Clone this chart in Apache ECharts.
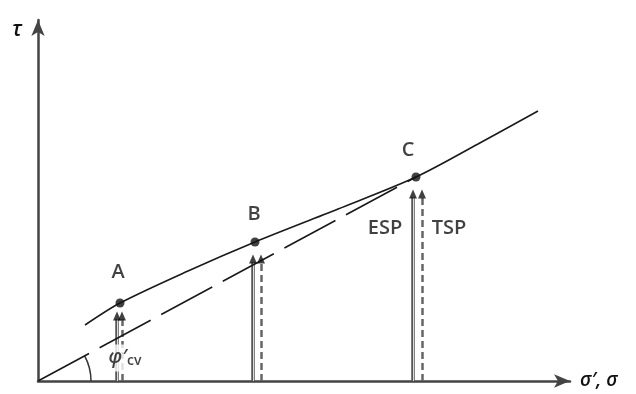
<!DOCTYPE html>
<html><head><meta charset="utf-8">
<script src="https://cdn.jsdelivr.net/npm/echarts@6/dist/echarts.min.js"></script>
<style>html,body{margin:0;padding:0;background:#fff}#c{width:636px;height:394px}</style>
</head><body><div id="c"></div>
<script>
// Failure envelope (curved), points in axis units
const curveX = [47, 82, 150, 217, 300, 378, 440, 500];
const curveY = [56, 78, 110, 139, 172, 204, 237, 270];
// Critical-state (phi'cv) line from origin to C
const cvX = [0, 378];
const cvY = [0, 204];
// State points
const pointNames = ['A', 'B', 'C'];
const pointX = [82, 217, 378];
const pointY = [78, 139, 204];
// Stress paths: effective (solid) and total (dashed)
const espX = [79, 215, 375];
const tspX = [84, 223, 384];
const pathTop = [66, 123, 188];
// Axis titles
const yTitle = 'τ';
const xTitle = 'σ′, σ';

const chart = echarts.init(document.getElementById('c'), null, {renderer: 'canvas'});
const FONT = 'Open Sans';

const textLabels = [
  {v: [pointX[0] - 2, 109], t: 'A'},
  {v: [pointX[1] - 1, 167], t: 'B'},
  {v: [pointX[2] - 8, 231], t: 'C'},
  {v: [347, 153], t: 'ESP'},
  {v: [411, 153], t: 'TSP'}
];

const espLines = espX.map((x, i) => ({coords: [[x, 0], [x, pathTop[i] - 4]]}));
const tspLines = tspX.map((x, i) => ({coords: [[x, 0], [x, pathTop[i] - 4]]}));
const heads = espX.map((x, i) => [x, pathTop[i] - 4]).concat(tspX.map((x, i) => [x, pathTop[i] - 4]));

chart.setOption({
  animation: false,
  grid: {left: 38, top: 20, width: 532, height: 361},
  xAxis: {
    type: 'value', min: 0, max: 532,
    splitLine: {show: false}, axisTick: {show: false}, axisLabel: {show: false},
    axisLine: {lineStyle: {color: '#444', width: 2.5}, symbol: ['none', 'arrow'], symbolSize: [10, 16]},
    name: xTitle, nameGap: 10,
    nameTextStyle: {fontFamily: FONT, fontStyle: 'italic', fontWeight: 600, fontSize: 19, color: '#111'}
  },
  yAxis: {
    type: 'value', min: 0, max: 361,
    splitLine: {show: false}, axisTick: {show: false}, axisLabel: {show: false},
    axisLine: {lineStyle: {color: '#444', width: 2.5}, symbol: ['none', 'arrow'], symbolSize: [10, 16]},
    name: yTitle, nameGap: 0,
    nameTextStyle: {fontFamily: FONT, fontStyle: 'italic', fontWeight: 600, fontSize: 21, color: '#111',
      align: 'right', verticalAlign: 'top', padding: [0, 16, 0, 0]}
  },
  series: [
    {
      type: 'line', data: curveX.map((x, i) => [x, curveY[i]]), smooth: 0.3,
      showSymbol: false, symbol: 'none',
      lineStyle: {color: '#1a1a1a', width: 1.6, type: 'solid'}, z: 3
    },
    {
      type: 'line', data: cvX.map((x, i) => [x, cvY[i]]),
      showSymbol: false, symbol: 'none',
      lineStyle: {color: '#1a1a1a', width: 1.6, type: [58, 12]}, z: 3
    },
    {
      type: 'lines', coordinateSystem: 'cartesian2d', data: espLines,
      lineStyle: {color: '#555', width: 3.5, type: 'solid', opacity: 1}, z: 2
    },
    {
      type: 'lines', coordinateSystem: 'cartesian2d', data: espLines,
      lineStyle: {color: '#ddd', width: 1, type: 'solid', opacity: 1}, z: 2
    },
    {
      type: 'lines', coordinateSystem: 'cartesian2d', data: tspLines,
      lineStyle: {color: '#666', width: 2.5, type: [7, 4], opacity: 1}, z: 2
    },
    {
      type: 'scatter', data: heads, symbol: 'triangle', symbolSize: [8, 9],
      symbolOffset: [0, -3], itemStyle: {color: '#111'}, z: 4
    },
    {
      type: 'custom', coordinateSystem: 'cartesian2d', data: [[0, 0]], clip: false, z: 2,
      renderItem: function (params, api) {
        const o = api.coord([0, 0]);
        const c = api.coord([cvX[1], cvY[1]]);
        const ang = Math.atan2(c[1] - o[1], c[0] - o[0]);
        return {type: 'arc', shape: {cx: o[0], cy: o[1], r: 53, startAngle: ang, endAngle: 0, clockwise: true},
          style: {stroke: '#333', lineWidth: 1.5, fill: null}};
      }
    },
    {
      type: 'scatter', data: pointX.map((x, i) => [x, pointY[i]]),
      symbol: 'circle', symbolSize: 9, itemStyle: {color: '#111'}, z: 5
    },
    {
      type: 'scatter', clip: false, symbolSize: 0, z: 6,
      data: textLabels.map(d => ({value: d.v, name: d.t})),
      label: {show: true, position: 'inside', formatter: '{b}', fontFamily: FONT,
        fontWeight: 600, fontSize: 20, color: '#111'}
    },
    {
      type: 'scatter', clip: false, symbolSize: 0, z: 6,
      data: [{value: [87, 23], name: 'phi'}],
      label: {show: true, position: 'inside', backgroundColor: '#fff', padding: [2, 1, 3, 1],
        formatter: '{p|φ′}{s|cv}',
        rich: {
          p: {fontFamily: FONT, fontStyle: 'italic', fontWeight: 600, fontSize: 19, color: '#111'},
          s: {fontFamily: FONT, fontWeight: 600, fontSize: 14, color: '#111', padding: [8, 0, 0, 0]}
        }}
    }
  ]
});
</script></body></html>
